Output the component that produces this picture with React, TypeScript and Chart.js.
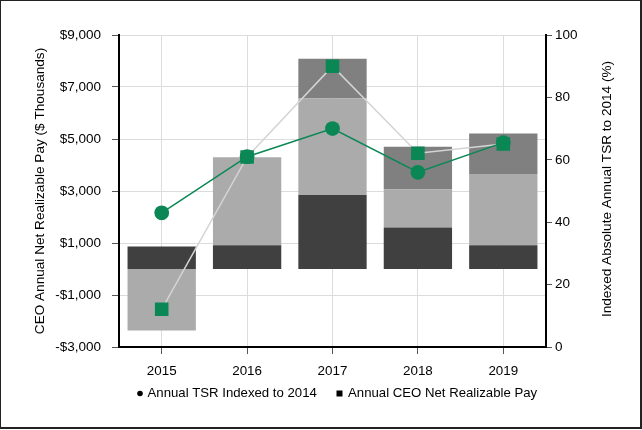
import React, { useEffect, useRef } from "react";
import { Chart, registerables } from "chart.js";

Chart.register(...registerables);

const years = ["2015", "2016", "2017", "2018", "2019"];
// Stacked pay components ($ thousands)
const payBase = [870, 910, 2850, 1600, 910];
const payMiddle = [-2370, 3390, 3710, 1460, 2740];
const payTop = [0, 0, 1530, 1640, 1560];
// Annual CEO net realizable pay ($ thousands), square markers
const ceoNetPay = [-1550, 4310, 7800, 4450, 4810];
// Annual TSR indexed to 2014 (%), circle markers
const tsrIndexed = [43, 61, 70, 56, 65.5];

const leftTicks = [-3000, -1000, 1000, 3000, 5000, 7000, 9000];

const leftTitle = "CEO Annual Net Realizable Pay ($ Thousands)";
const rightTitle = "Indexed Absolute Annual TSR to 2014 (%)";
const legendLabels = ["Annual TSR Indexed to 2014", "Annual CEO Net Realizable Pay"];

const FONT = "Arial, 'Liberation Sans', sans-serif";
const GREEN = "#0a8754";

const extrasPlugin = {
  id: "extras",
  afterDraw(chart: any) {
    const ctx = chart.ctx;
    ctx.save();
    ctx.fillStyle = "#000";
    ctx.font = `13.2px ${FONT}`;
    ctx.textBaseline = "middle";
    ctx.textAlign = "left";
    const y = 393.5;
    ctx.beginPath();
    ctx.arc(140, y, 2.8, 0, Math.PI * 2);
    ctx.fill();
    ctx.fillText(legendLabels[0], 147.5, y);
    ctx.fillRect(336.5, y - 3, 6, 6);
    ctx.fillText(legendLabels[1], 348, y);

    // right axis title, reading bottom-to-top
    const area = chart.chartArea;
    ctx.translate(607, (area.top + area.bottom) / 2 - 2);
    ctx.rotate(-Math.PI / 2);
    ctx.textAlign = "center";
    ctx.font = `13.6px ${FONT}`;
    ctx.fillText(rightTitle, 0, 0);
    ctx.restore();
  },
};

export default function App() {
  const ref = useRef<HTMLCanvasElement>(null);

  useEffect(() => {
    document.body.style.margin = "0";
    const canvas = ref.current!;
    const chart = new Chart(canvas, {
      type: "bar",
      data: {
        labels: years,
        datasets: [
          {
            type: "line",
            label: legendLabels[0],
            data: tsrIndexed,
            yAxisID: "y1",
            borderColor: GREEN,
            backgroundColor: GREEN,
            borderWidth: 1.5,
            pointStyle: "circle",
            pointRadius: 7.4,
            pointBorderWidth: 0,
            pointBackgroundColor: GREEN,
            order: 0,
            stack: "tsr",
          } as any,
          {
            type: "line",
            label: legendLabels[1],
            data: ceoNetPay,
            yAxisID: "y",
            borderColor: "#d4d4d4",
            backgroundColor: GREEN,
            borderWidth: 1.5,
            pointStyle: "rect",
            pointRadius: 9.6,
            pointBorderWidth: 0,
            pointBackgroundColor: GREEN,
            order: 1,
            stack: "netpay",
          } as any,
          {
            label: "Base",
            data: payBase,
            backgroundColor: "#404040",
            yAxisID: "y",
            stack: "pay",
            order: 5,
            barPercentage: 0.8,
            categoryPercentage: 1,
          },
          {
            label: "Middle",
            data: payMiddle,
            backgroundColor: "#ababab",
            yAxisID: "y",
            stack: "pay",
            order: 5,
            barPercentage: 0.8,
            categoryPercentage: 1,
          },
          {
            label: "Top",
            data: payTop,
            backgroundColor: "#808080",
            yAxisID: "y",
            stack: "pay",
            order: 5,
            barPercentage: 0.8,
            categoryPercentage: 1,
          },
        ],
      },
      options: {
        responsive: false,
        animation: false,
        layout: { padding: { top: 35, left: 0, right: 0, bottom: 0 } },
        plugins: {
          legend: { display: false },
          tooltip: { enabled: false },
        },
        scales: {
          x: {
            stacked: true,
            offset: true,
            afterFit: (s: any) => {
              s.height = 83;
            },
            grid: {
              offset: false,
              color: "#dcdcdc",
              lineWidth: 1,
              tickLength: 7,
              tickColor: "#555",
              drawOnChartArea: true,
            },
            border: { color: "#000", width: 2 },
            ticks: {
              color: "#000",
              font: { family: FONT, size: 13.4 },
              padding: 9.5,
              maxRotation: 0,
            },
          },
          y: {
            position: "left",
            stacked: true,
            min: -3000,
            max: 9000,
            afterFit: (s: any) => {
              s.width = 119;
            },
            afterBuildTicks: (s: any) => {
              s.ticks = leftTicks.map((v) => ({ value: v }));
            },
            grid: {
              color: "#dcdcdc",
              lineWidth: 1,
              tickLength: 7,
              tickColor: "#555",
            },
            border: { color: "#000", width: 2 },
            ticks: {
              color: "#000",
              font: { family: FONT, size: 13.5 },
              padding: 11,
              callback: (v: any) => {
                const n = Number(v);
                const s = Math.abs(n).toLocaleString("en-US");
                return (n < 0 ? "-$" : "$") + s;
              },
            },
            title: {
              display: true,
              text: leftTitle,
              color: "#000",
              font: { family: FONT, size: 13.6 },
              padding: { top: 32, bottom: 0 },
            },
          },
          y1: {
            position: "right",
            min: 0,
            max: 100,
            afterFit: (s: any) => {
              s.width = 96;
            },
            grid: {
              drawOnChartArea: false,
              tickLength: 6,
              tickColor: "#555",
            },
            border: { color: "#000", width: 2 },
            ticks: {
              stepSize: 20,
              color: "#000",
              font: { family: FONT, size: 13.5 },
              padding: 3,
            },
          },
        },
      },
      plugins: [extrasPlugin],
    });
    return () => chart.destroy();
  }, []);

  return (
    <div style={{ position: "absolute", left: 0, top: 0, width: 642, height: 430, background: "#fff" }}>
      <canvas ref={ref} width={642} height={430} style={{ display: "block" }} />
      <div
        style={{
          position: "absolute",
          left: 0,
          top: 0,
          width: 642,
          height: 429,
          boxSizing: "border-box",
          borderLeft: "1px solid #222",
          borderTop: "1px solid #222",
          borderRight: "2px solid #222",
          borderBottom: "2px solid #222",
          pointerEvents: "none",
        }}
      />
    </div>
  );
}
